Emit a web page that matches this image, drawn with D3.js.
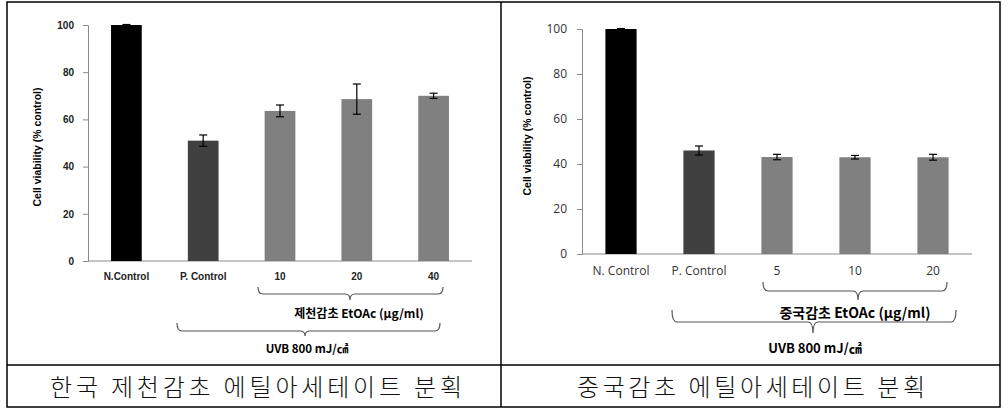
<!DOCTYPE html>
<html><head><meta charset="utf-8">
<script src="https://cdn.jsdelivr.net/npm/d3@7"></script>
<style>body{margin:0;background:#fff}svg{display:block}</style>
</head><body>
<svg id="c" width="1008" height="412"></svg>
<script>
const yTicks = [0, 20, 40, 60, 80, 100];
const leftCategories = ["N.Control", "P. Control", "10", "20", "40"];
const leftValues = [100, 51, 63.6, 68.6, 70];
const leftErrors = [0.2, 2.4, 2.5, 6.4, 1.1];
const rightCategories = ["N. Control", "P. Control", "5", "10", "20"];
const rightValues = [100, 46, 43.1, 43, 43];
const rightErrors = [0.2, 2.0, 1.2, 0.8, 1.3];
const barColors = ["#000000", "#404040", "#808080", "#808080", "#808080"];
const leftBracketInner = "제천감초 EtOAc (μg/ml)";
const rightBracketInner = "중국감초 EtOAc (μg/ml)";
const bracketOuter = "UVB 800 mJ/㎠";
const yTitle = "Cell viability (% control)";
const leftCaption = "한국 제천감초 에틸아세테이트 분획";
const rightCaption = "중국감초 에틸아세테이트 분획";

const svg = d3.select("#c");

// table frame
const frame = svg.append("g").attr("stroke", "#000").attr("stroke-width", 1.5).attr("fill", "none");
frame.append("rect").attr("x", 7).attr("y", 2).attr("width", 993).attr("height", 405);
frame.append("line").attr("x1", 7).attr("x2", 1000).attr("y1", 365).attr("y2", 365);
frame.append("line").attr("x1", 501).attr("x2", 501).attr("y1", 2).attr("y2", 407);

function bracePath(x1, x2, top, h, cx, bottom) {
  const r = 5;
  return `M${x1},${top} Q${x1},${h} ${x1 + r},${h} L${cx - r},${h} Q${cx},${h} ${cx},${bottom} Q${cx},${h} ${cx + r},${h} L${x2 - r},${h} Q${x2},${h} ${x2},${top}`;
}

function panel(o) {
  const g = svg.append("g");
  const x = d3.scaleBand().domain(o.cats).range([o.x0, o.x1]).paddingInner(0.6).paddingOuter(0.3);
  const y = d3.scaleLinear().domain([0, 100]).range([o.y0, o.y1]);

  const ya = d3.axisLeft(y).tickValues(yTicks).tickSize(5).tickPadding(o.tickPad);
  const yg = g.append("g").attr("transform", `translate(${o.x0},0)`).call(ya);
  yg.select(".domain").attr("stroke", "#8a8a8a");
  yg.selectAll(".tick line").attr("stroke", "#8a8a8a");
  yg.selectAll(".tick text").attr("font-family", o.tickFont).attr("font-size", o.tickSize)
    .attr("font-weight", o.tickWeight).attr("fill", o.tickColor);

  g.append("line").attr("x1", o.x0).attr("x2", o.x1).attr("y1", y(0)).attr("y2", y(0)).attr("stroke", "#8a8a8a");

  g.selectAll("rect.bar").data(o.vals).join("rect").attr("class", "bar")
    .attr("x", (d, i) => x(o.cats[i])).attr("width", x.bandwidth())
    .attr("y", d => y(d)).attr("height", d => y(0) - y(d))
    .attr("fill", (d, i) => barColors[i]);

  const eg = g.append("g").attr("stroke", "#000").attr("stroke-width", 1.2);
  o.vals.forEach((v, i) => {
    const cx = x(o.cats[i]) + x.bandwidth() / 2;
    const e = o.errs[i];
    eg.append("line").attr("x1", cx).attr("x2", cx).attr("y1", y(v + e)).attr("y2", y(v - e));
    eg.append("line").attr("x1", cx - 4).attr("x2", cx + 4).attr("y1", y(v + e)).attr("y2", y(v + e));
    eg.append("line").attr("x1", cx - 4).attr("x2", cx + 4).attr("y1", y(v - e)).attr("y2", y(v - e));
  });

  g.selectAll("text.cat").data(o.cats).join("text").attr("class", "cat")
    .attr("x", d => x(d) + x.bandwidth() / 2).attr("y", o.catY)
    .attr("text-anchor", "middle").attr("font-family", o.tickFont).attr("font-size", o.catSize)
    .attr("font-weight", o.tickWeight).attr("fill", o.tickColor).text(d => d);

  g.append("text").attr("transform", `translate(${o.titleX},${o.titleY}) rotate(-90)`)
    .attr("text-anchor", "middle").attr("font-family", "Liberation Sans, Arial, sans-serif")
    .attr("font-size", o.titleSize).attr("font-weight", "bold").text(yTitle);

  const bg = g.append("g").attr("fill", "none").attr("stroke", "#555").attr("stroke-width", 1.2);
  o.braces.forEach(b => {
    bg.append("path").attr("d", bracePath(b.x1, b.x2, b.top, b.h, b.cx, b.bottom));
    g.append("text").attr("x", b.lx).attr("y", b.ly).attr("text-anchor", "middle")
      .attr("font-family", "Noto Sans CJK KR, sans-serif").attr("font-size", b.size)
      .attr("font-weight", "bold").text(b.label);
  });

  g.append("text").attr("x", o.capX).attr("y", 396).attr("text-anchor", "middle")
    .attr("font-family", "Noto Sans CJK KR, serif").attr("font-size", 24).attr("font-weight", 300)
    .attr("textLength", o.capLen).attr("lengthAdjust", "spacing")
    .attr("fill", "#111").text(o.caption);
}

panel({
  cats: leftCategories, vals: leftValues, errs: leftErrors,
  x0: 88, x1: 472, y0: 261, y1: 25,
  tickFont: "Liberation Sans, Arial, sans-serif", tickSize: 10, catSize: 10, tickWeight: "bold", tickColor: "#222", tickPad: 9,
  catY: 280, titleX: 41, titleY: 147, titleSize: 10.5,
  braces: [
    {x1: 258, x2: 443, top: 287, h: 294, cx: 350, bottom: 300, lx: 359, ly: 318, size: 12, label: leftBracketInner},
    {x1: 177, x2: 440, top: 323, h: 331, cx: 305, bottom: 336, lx: 307, ly: 353, size: 11.5, label: bracketOuter}
  ],
  capX: 256, capLen: 412, caption: leftCaption
});

panel({
  cats: rightCategories, vals: rightValues, errs: rightErrors,
  x0: 582, x1: 972, y0: 254, y1: 29,
  tickFont: "Open Sans, sans-serif", tickSize: 12, catSize: 12, tickWeight: "normal", tickColor: "#333", tickPad: 10,
  catY: 275, titleX: 531, titleY: 136, titleSize: 10.5,
  braces: [
    {x1: 763, x2: 947, top: 282, h: 291, cx: 858, bottom: 300, lx: 855, ly: 318, size: 14, label: rightBracketInner},
    {x1: 672, x2: 956, top: 310, h: 322, cx: 813, bottom: 333, lx: 815, ly: 353, size: 13, label: bracketOuter}
  ],
  capX: 751, capLen: 348, caption: rightCaption
});
</script>
</body></html>
